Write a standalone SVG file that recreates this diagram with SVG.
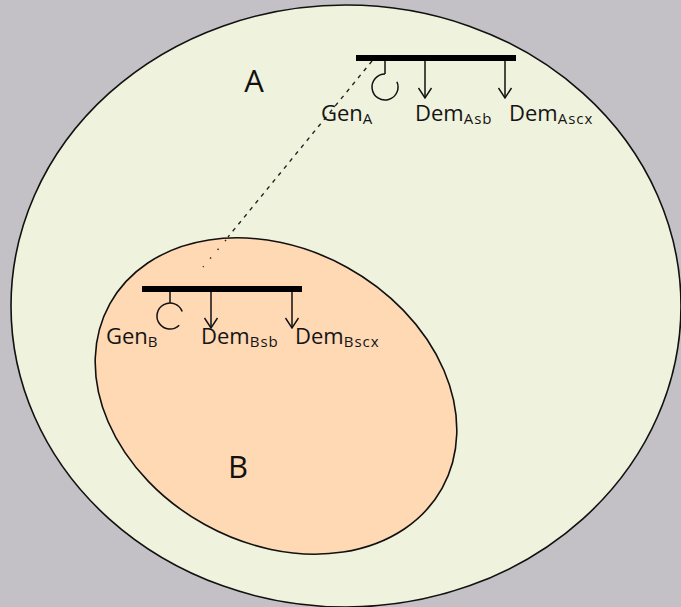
<svg xmlns="http://www.w3.org/2000/svg" width="681" height="607" viewBox="0 0 681 607">
<style>
.lbl{font-family:"Open Sans","Noto Sans","Liberation Sans",sans-serif;font-size:22px;fill:#141414}
.sub{font-size:15px;letter-spacing:1px}
.big{font-family:"Open Sans","Noto Sans","Liberation Sans",sans-serif;font-size:31px;fill:#111}
.bus{stroke:#000;stroke-width:6;fill:none}
.thin{stroke:#111;stroke-width:1.5;fill:none}
.dem{stroke:#111;stroke-width:1.5;fill:none;marker-end:url(#vhead)}
</style>
<defs>
<marker id="vhead" viewBox="-11 -8 12 16" refX="0" refY="0" markerWidth="12" markerHeight="16" markerUnits="userSpaceOnUse" orient="auto">
<path d="M-10,-6.5 L0,0 L-10,6.5" fill="none" stroke="#111" stroke-width="1.4"/>
</marker>
</defs>
<rect width="681" height="607" fill="#c3c1c6"/>
<g id="regionA">
<ellipse cx="346" cy="306" rx="335" ry="301" fill="#eff2dc" stroke="#111" stroke-width="1.6"/>
<text class="big" x="254" y="92" text-anchor="middle">A</text>
</g>
<g id="regionB">
<ellipse cx="276" cy="396" rx="190" ry="147" transform="rotate(29 276 396)" fill="#ffd8b4" stroke="#111" stroke-width="1.6"/>
<text class="big" x="238" y="478" text-anchor="middle">B</text>
</g>
<g id="connectors">
<line x1="372" y1="61" x2="228" y2="237" stroke="#222" stroke-width="1.4" stroke-dasharray="4 5"/>
<line x1="226" y1="240" x2="203" y2="267" stroke="#222" stroke-width="1.4" stroke-dasharray="1.5 10"/>
</g>
<g id="busA">
<line class="bus" x1="356" y1="58" x2="516" y2="58"/>
</g>
<g id="genA">
<line class="thin" x1="385" y1="61" x2="385" y2="74"/>
<path class="thin" d="M396.9,81.7 A13,13 0 1 1 385,74"/>
<text class="lbl" x="321" y="121">Gen<tspan class="sub" dy="3">A</tspan></text>
</g>
<g id="demAsb">
<line class="dem" x1="425" y1="61" x2="425" y2="98"/>
<text class="lbl" x="415" y="121">Dem<tspan class="sub" dy="3">Asb</tspan></text>
</g>
<g id="demAscx">
<line class="dem" x1="505" y1="61" x2="505" y2="98"/>
<text class="lbl" x="509" y="121">Dem<tspan class="sub" dy="3">Ascx</tspan></text>
</g>
<g id="busB">
<line class="bus" x1="142" y1="289" x2="302" y2="289"/>
</g>
<g id="genB">
<line class="thin" x1="170" y1="292" x2="170" y2="303"/>
<path class="thin" d="M179.2,325.2 A13,13 0 1 1 182.2,311.6"/>
<text class="lbl" x="106" y="344">Gen<tspan class="sub" dy="3">B</tspan></text>
</g>
<g id="demBsb">
<line class="dem" x1="211" y1="292" x2="211" y2="328"/>
<text class="lbl" x="201" y="344">Dem<tspan class="sub" dy="3">Bsb</tspan></text>
</g>
<g id="demBscx">
<line class="dem" x1="292" y1="292" x2="292" y2="328"/>
<text class="lbl" x="295" y="344">Dem<tspan class="sub" dy="3">Bscx</tspan></text>
</g>
</svg>
